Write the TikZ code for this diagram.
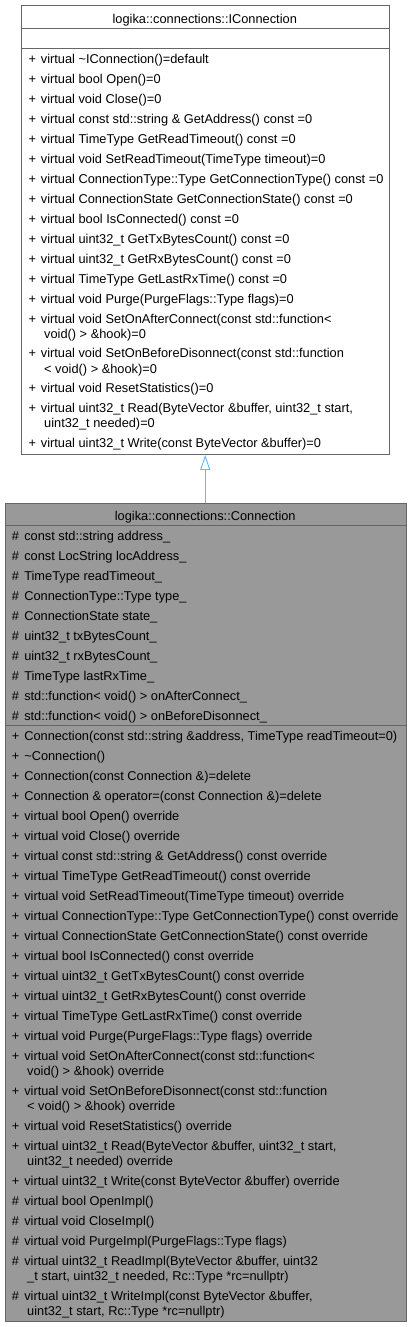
\documentclass[tikz,border=0pt]{standalone}
\usepackage{fontspec}
\setmainfont{Liberation Sans}
\usetikzlibrary{arrows.meta}
\definecolor{boxline}{HTML}{666666}
\definecolor{boxfill}{HTML}{999999}
\definecolor{edgeblue}{HTML}{63B8FF}
\newcommand\pl{\makebox[12.4pt][l]{+}}
\newcommand\hs{\makebox[12.4pt][l]{\#}}
\tikzset{
  classbox/.style={draw=boxline, line width=0.9pt, inner sep=0pt, anchor=north west},
  sepline/.style={draw=boxline, line width=0.9pt},
  mem/.style={inner sep=0pt, anchor=base west, font=\fontsize{12.8}{15}\selectfont},
  ttl/.style={inner sep=0pt, anchor=base, font=\fontsize{12.8}{15}\selectfont},
  inherit/.style={draw=edgeblue, line width=0.9pt, -{Triangle[open, length=15pt, width=10pt]}}
}
\begin{document}
\begin{tikzpicture}[x=1pt, y=-1pt]
\useasboundingbox (0,0) rectangle (411,1327);
% ---------- IConnection ----------
\node[classbox, fill=white, minimum width=367.5pt, minimum height=449pt] (ic) at (21,5) {};
\draw[sepline] (21,28) -- (388.5,28);
\draw[sepline] (21,48) -- (388.5,48);
\node[ttl] (ictitle) at (204.75,23.5) {logika::connections::IConnection};
\def\bx{28.3}
\def\cx{44}
\node[mem] (a1) at (\bx,63.5) {\pl virtual \textasciitilde IConnection()=default};
\node[mem] (a2) at (\bx,83.5) {\pl virtual bool Open()=0};
\node[mem] (a3) at (\bx,103.5) {\pl virtual void Close()=0};
\node[mem] (a4) at (\bx,123.5) {\pl virtual const std::string \& GetAddress() const =0};
\node[mem] (a5) at (\bx,143.5) {\pl virtual TimeType GetReadTimeout() const =0};
\node[mem] (a6) at (\bx,163.5) {\pl virtual void SetReadTimeout(TimeType timeout)=0};
\node[mem] (a7) at (\bx,183.5) {\pl virtual ConnectionType::Type GetConnectionType() const =0};
\node[mem] (a8) at (\bx,203.5) {\pl virtual ConnectionState GetConnectionState() const =0};
\node[mem] (a9) at (\bx,223.5) {\pl virtual bool IsConnected() const =0};
\node[mem] (a10) at (\bx,243.5) {\pl virtual uint32\_t GetTxBytesCount() const =0};
\node[mem] (a11) at (\bx,263.5) {\pl virtual uint32\_t GetRxBytesCount() const =0};
\node[mem] (a12) at (\bx,283.5) {\pl virtual TimeType GetLastRxTime() const =0};
\node[mem] (a13) at (\bx,303.5) {\pl virtual void Purge(PurgeFlags::Type flags)=0};
\node[mem] (a14) at (\bx,323) {\pl virtual void SetOnAfterConnect(const std::function<};
\node[mem] (a14b) at (\cx,338.8) {void() > \&hook)=0};
\node[mem] (a15) at (\bx,357.8) {\pl virtual void SetOnBeforeDisonnect(const std::function};
\node[mem] (a15b) at (\cx,373.5) {< void() > \&hook)=0};
\node[mem] (a16) at (\bx,392.8) {\pl virtual void ResetStatistics()=0};
\node[mem] (a17) at (\bx,412.8) {\pl virtual uint32\_t Read(ByteVector \&buffer, uint32\_t start,};
\node[mem] (a17b) at (\cx,427.8) {uint32\_t needed)=0};
\node[mem] (a18) at (\bx,447.2) {\pl virtual uint32\_t Write(const ByteVector \&buffer)=0};
% ---------- Connection ----------
\node[classbox, fill=boxfill, minimum width=400.5pt, minimum height=817.8pt] (c) at (5,502.7) {};
\draw[sepline] (5,525.3) -- (405.5,525.3);
\draw[sepline] (5,725.5) -- (405.5,725.5);
\node[ttl] (ctitle) at (205.25,520.5) {logika::connections::Connection};
\def\dx{11.7}
\def\ex{27}
\node[mem] (b1) at (\dx,540.5) {\hs const std::string address\_};
\node[mem] (b2) at (\dx,560.5) {\hs const LocString locAddress\_};
\node[mem] (b3) at (\dx,580.5) {\hs TimeType readTimeout\_};
\node[mem] (b4) at (\dx,600.5) {\hs ConnectionType::Type type\_};
\node[mem] (b5) at (\dx,620.5) {\hs ConnectionState state\_};
\node[mem] (b6) at (\dx,640.5) {\hs uint32\_t txBytesCount\_};
\node[mem] (b7) at (\dx,660.5) {\hs uint32\_t rxBytesCount\_};
\node[mem] (b8) at (\dx,680.5) {\hs TimeType lastRxTime\_};
\node[mem] (b9) at (\dx,700.5) {\hs std::function< void() > onAfterConnect\_};
\node[mem] (b10) at (\dx,720.5) {\hs std::function< void() > onBeforeDisonnect\_};
\node[mem] (m1) at (\dx,740.5) {\pl Connection(const std::string \&address, TimeType readTimeout=0)};
\node[mem] (m2) at (\dx,760.5) {\pl \textasciitilde Connection()};
\node[mem] (m3) at (\dx,780.5) {\pl Connection(const Connection \&)=delete};
\node[mem] (m4) at (\dx,800.5) {\pl Connection \& operator=(const Connection \&)=delete};
\node[mem] (m5) at (\dx,820.5) {\pl virtual bool Open() override};
\node[mem] (m6) at (\dx,840.5) {\pl virtual void Close() override};
\node[mem] (m7) at (\dx,860.5) {\pl virtual const std::string \& GetAddress() const override};
\node[mem] (m8) at (\dx,880.5) {\pl virtual TimeType GetReadTimeout() const override};
\node[mem] (m9) at (\dx,900.5) {\pl virtual void SetReadTimeout(TimeType timeout) override};
\node[mem] (m10) at (\dx,920.5) {\pl virtual ConnectionType::Type GetConnectionType() const override};
\node[mem] (m11) at (\dx,940.5) {\pl virtual ConnectionState GetConnectionState() const override};
\node[mem] (m12) at (\dx,960.5) {\pl virtual bool IsConnected() const override};
\node[mem] (m13) at (\dx,980.5) {\pl virtual uint32\_t GetTxBytesCount() const override};
\node[mem] (m14) at (\dx,1000.5) {\pl virtual uint32\_t GetRxBytesCount() const override};
\node[mem] (m15) at (\dx,1020.5) {\pl virtual TimeType GetLastRxTime() const override};
\node[mem] (m16) at (\dx,1040.5) {\pl virtual void Purge(PurgeFlags::Type flags) override};
\node[mem] (m17) at (\dx,1060.5) {\pl virtual void SetOnAfterConnect(const std::function<};
\node[mem] (m17b) at (\ex,1075.5) {void() > \&hook) override};
\node[mem] (m18) at (\dx,1095.5) {\pl virtual void SetOnBeforeDisonnect(const std::function};
\node[mem] (m18b) at (\ex,1110.5) {< void() > \&hook) override};
\node[mem] (m19) at (\dx,1130.5) {\pl virtual void ResetStatistics() override};
\node[mem] (m20) at (\dx,1150.5) {\pl virtual uint32\_t Read(ByteVector \&buffer, uint32\_t start,};
\node[mem] (m20b) at (\ex,1165.5) {uint32\_t needed) override};
\node[mem] (m21) at (\dx,1185.2) {\pl virtual uint32\_t Write(const ByteVector \&buffer) override};
\node[mem] (m22) at (\dx,1205.2) {\hs virtual bool OpenImpl()};
\node[mem] (m23) at (\dx,1225.2) {\hs virtual void CloseImpl()};
\node[mem] (m24) at (\dx,1245.2) {\hs virtual void PurgeImpl(PurgeFlags::Type flags)};
\node[mem] (m25) at (\dx,1265.2) {\hs virtual uint32\_t ReadImpl(ByteVector \&buffer, uint32};
\node[mem] (m25b) at (\ex,1280.2) {\_t start, uint32\_t needed, Rc::Type *rc=nullptr)};
\node[mem] (m26) at (\dx,1300.2) {\hs virtual uint32\_t WriteImpl(const ByteVector \&buffer,};
\node[mem] (m26b) at (\ex,1315.2) {uint32\_t start, Rc::Type *rc=nullptr)};
% ---------- inheritance ----------
\draw[inherit] (c.north -| ic.south) -- (ic.south);
\end{tikzpicture}
\end{document}
